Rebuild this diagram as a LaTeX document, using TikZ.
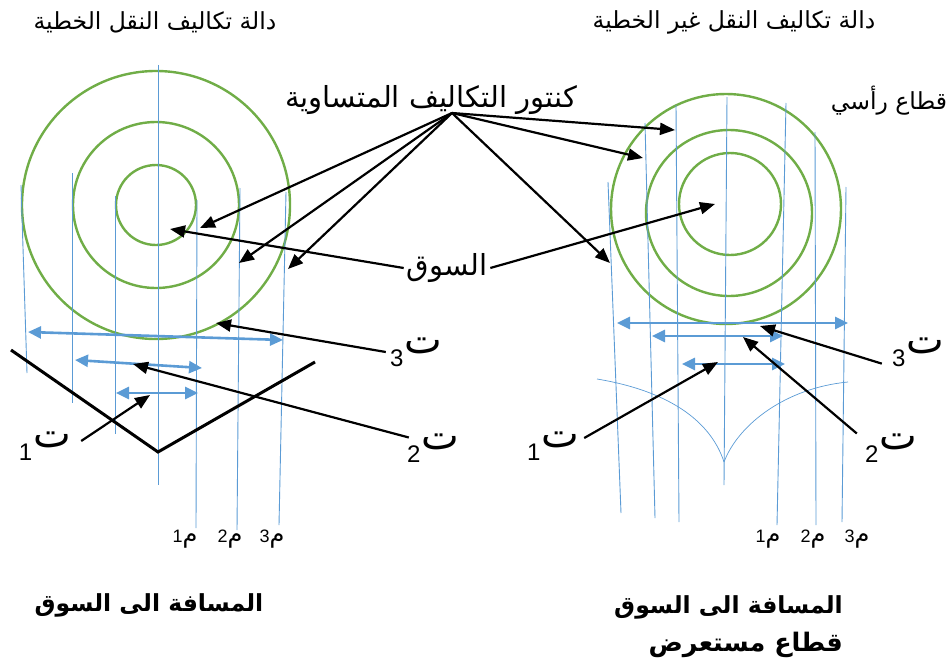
\documentclass[tikz,border=0pt]{standalone}
\usepackage{fontspec}
\setmainfont{Liberation Sans}
\newfontfamily\arabicfont[Script=Arabic]{DejaVu Sans}
\TeXXeTstate=1
\usetikzlibrary{arrows.meta,calc}
\definecolor{cgreen}{HTML}{70AD47}
\definecolor{cblue}{HTML}{5B9BD5}
\tikzset{
  contour/.style={cgreen, line width=2.4pt},
  vline/.style={cblue, line width=0.9pt},
  thinc/.style={cblue, line width=0.7pt},
  dimarr/.style={cblue, line width=2.6pt, {Triangle[length=13pt,width=12pt]}-{Triangle[length=13pt,width=12pt]}},
  ptr/.style={black, line width=2.2pt, -{Triangle[length=15pt,width=12pt]}},
  vshape/.style={black, line width=3pt},
  toplbl/.style={inner sep=0pt, font=\arabicfont\fontsize{23.5}{26}\selectfont},
  biglbl/.style={inner sep=0pt, font=\arabicfont\fontsize{29}{32}\selectfont},
  seclbl/.style={inner sep=0pt, font=\arabicfont\fontsize{23.5}{26}\selectfont},
  botlbl/.style={inner sep=0pt, font=\arabicfont\bfseries\fontsize{23.5}{28}\selectfont},
  botlblb/.style={inner sep=0pt, font=\arabicfont\bfseries\fontsize{25.5}{28}\selectfont},
  tlbl/.style={inner sep=0pt, font=\fontsize{24}{26}\selectfont},
  mlbl/.style={inner sep=0pt, font=\fontsize{18}{20}\selectfont},
}
\newcommand{\tsub}[1]{\raisebox{-13pt}{#1}\hspace{1pt}{\arabicfont\fontsize{40}{44}\selectfont\beginR ت\endR}}
\newcommand{\msub}[1]{#1{\arabicfont\fontsize{24}{26}\selectfont\beginR م\endR}}
\begin{document}
\begin{tikzpicture}[x=1pt,y=-1pt]
\useasboundingbox (0,0) rectangle (947,669);

% ---------- titles ----------
\node[toplbl] (tl) at (155,22) {\beginR دالة تكاليف النقل الخطية\endR};
\node[toplbl] (tr) at (734,22) {\beginR دالة تكاليف النقل غير الخطية\endR};
\node[biglbl] (kont) at (431,100) {\beginR كنتور التكاليف المتساوية\endR};
\node[seclbl] (vsec) at (889,101) {\beginR قطاع رأسي\endR};
\node[biglbl] (souq) at (447,268) {\beginR السوق\endR};

% ---------- left figure ----------
\coordinate (cL) at (156,205);
\draw[contour] (cL) circle[radius=40];
\draw[contour] (cL) circle[radius=83];
\draw[contour] (cL) circle[radius=134];

\draw[vline] (21,185) -- (27,373);
\draw[vline] (72,173) -- (72,403);
\draw[vline] (115,196) -- (115,434);
\draw[vline] (158,65) -- (158,485);
\draw[vline] (197,200) -- (196,528);
\draw[vline] (240,188) -- (237,530);
\draw[vline] (286,192) -- (279,525);

\draw[vshape] (11,350) -- (158,452) -- (315,362);

\coordinate (aL1) at (28,332); \coordinate (bL1) at (283,340);
\coordinate (aL2) at (75,360); \coordinate (bL2) at (202,368);
\coordinate (aL3) at (116,393); \coordinate (bL3) at (198,393);
\draw[dimarr] (aL1) -- (bL1);
\draw[dimarr] (aL2) -- (bL2);
\draw[dimarr] (aL3) -- (bL3);

\node[mlbl] (m1L) at (185,539) {\msub{1}};
\node[mlbl] (m2L) at (230,539) {\msub{2}};
\node[mlbl] (m3L) at (272,539) {\msub{3}};

\node[tlbl] (t1L) at (45,446) {\tsub{1}};
\node[tlbl] (t2L) at (433,448) {\tsub{2}};
\node[tlbl] (t3L) at (416,352) {\tsub{3}};

\node[botlbl] (dL) at (149,605) {\beginR المسافة الى السوق\endR};

% ---------- right figure ----------
\draw[contour] (730,204) circle[radius=51];
\draw[contour] (729,213) circle[radius=83];
\draw[contour] (726,209) circle[radius=115];

\draw[vline] (608,182) -- (621,513);
\draw[vline] (645,123) -- (655,518);
\draw[vline] (676,105) -- (679,522);
\draw[vline] (727,97) -- (724,485);
\draw[vline] (786,103) -- (777,525);
\draw[vline] (815,132) -- (816,525);
\draw[vline] (846,187) -- (842,522);

\coordinate (cusp) at (724,462);
\draw[thinc] (597,379) .. controls (675,392) and (712,425) .. (cusp);
\draw[thinc] (cusp) .. controls (738,425) and (785,388) .. (848,382);

\coordinate (aR1) at (617,323); \coordinate (bR1) at (848,323);
\coordinate (aR2) at (652,336); \coordinate (bR2) at (783,336);
\coordinate (aR3) at (682,364); \coordinate (bR3) at (785,364);
\draw[dimarr] (aR1) -- (bR1);
\draw[dimarr] (aR2) -- (bR2);
\draw[dimarr] (aR3) -- (bR3);

\node[mlbl] (m1R) at (768,539) {\msub{1}};
\node[mlbl] (m2R) at (813,539) {\msub{2}};
\node[mlbl] (m3R) at (857,539) {\msub{3}};

\node[tlbl] (t1R) at (553,446) {\tsub{1}};
\node[tlbl] (t2R) at (891,448) {\tsub{2}};
\node[tlbl] (t3R) at (918,352) {\tsub{3}};

\node[botlbl, anchor=east] (dR) at (843,607) {\beginR المسافة الى السوق\endR};
\node[botlblb, anchor=east] (dR2) at (843,645) {\beginR قطاع مستعرض\endR};

% ---------- pointers ----------
\coordinate (ks) at (452,113);
\coordinate (pc1) at (200,228);
\coordinate (pc2) at (239,263);
\coordinate (pc3) at (288,269);
\coordinate (pr1) at (675,130);
\coordinate (pr2) at (643,158);
\coordinate (pr3) at (610,263);
\draw[ptr] (ks) -- (pc1);
\draw[ptr] (ks) -- (pc2);
\draw[ptr] (ks) -- (pc3);
\draw[ptr] (ks) -- (pr1);
\draw[ptr] (ks) -- (pr2);
\draw[ptr] (ks) -- (pr3);

\coordinate (sqL) at (170,229);
\coordinate (sqR) at (715,204);
\draw[ptr] ($(souq.west)+(-3,0)$) -- (sqL);
\draw[ptr] ($(souq.east)+(3,0)$) -- (sqR);

\coordinate (ht3L) at (216,323);
\coordinate (ht2L) at (133,364);
\coordinate (ht1L) at (150,395);
\draw[ptr] ($(t3L.west)+(-4,0)$) -- (ht3L);
\draw[ptr] ($(t2L.north west)+(2,4)$) -- (ht2L);
\draw[ptr] ($(t1L.east)+(10,-5)$) -- (ht1L);

\coordinate (ht3R) at (760,326);
\coordinate (ht2R) at (743,337);
\coordinate (ht1R) at (718,362);
\draw[ptr] ($(t3R.south west)+(-10,-3)$) -- (ht3R);
\draw[ptr] ($(t2R.north west)+(-8,0)$) -- (ht2R);
\draw[ptr] ($(t1R.east)+(5,-8)$) -- (ht1R);
\end{tikzpicture}
\end{document}
